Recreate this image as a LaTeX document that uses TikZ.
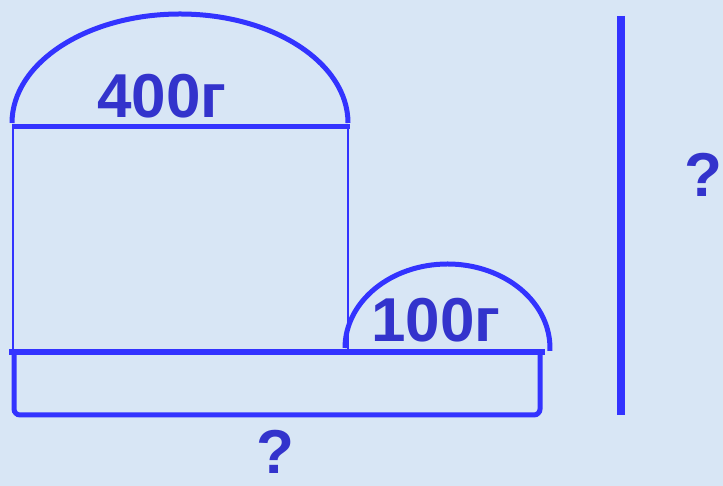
\documentclass[tikz,border=0pt]{standalone}
\usepackage{fontspec}
\setmainfont{Liberation Sans}
\definecolor{bg}{RGB}{216,230,245}
\definecolor{lineblue}{RGB}{51,51,255}
\definecolor{textblue}{RGB}{51,51,204}
\begin{document}
\begin{tikzpicture}[x=1pt,y=1pt,
  thickline/.style={draw=lineblue,line width=5pt},
  thinline/.style={draw=lineblue,line width=1.8pt},
  lbl/.style={text=textblue,font=\fontsize{62}{62}\selectfont\bfseries,inner sep=0pt,anchor=base}]
\fill[bg] (0,0) rectangle (723,486);
\useasboundingbox (0,0) rectangle (723,486);
% big arch
\draw[thickline] (12,363) arc[start angle=180,end angle=0,x radius=168,y radius=109];
\draw[thickline] (12,359) -- (350,359);
\draw[thinline] (13,359) -- (13,134);
\draw[thinline] (348,359) -- (348,134);
% long bar
\draw[draw=lineblue,line width=6pt] (9,133.5) -- (545,133.5);
\draw[thickline,rounded corners=6pt] (14,133) -- (14,71) -- (540,71) -- (540,133);
% small arch
\draw[thickline] (345,138) arc[start angle=180,end angle=-2,x radius=102.5,y radius=84];
% vertical line
\draw[draw=lineblue,line width=8pt] (621,470) -- (621,71);
% labels
\node[lbl] (t400) at (162,368) {400г};
\node[lbl] (t100) at (436,144) {100г};
\node[lbl] (qright) at (703,289) {?};
\node[lbl] (qbottom) at (275,12) {?};
\end{tikzpicture}
\end{document}
